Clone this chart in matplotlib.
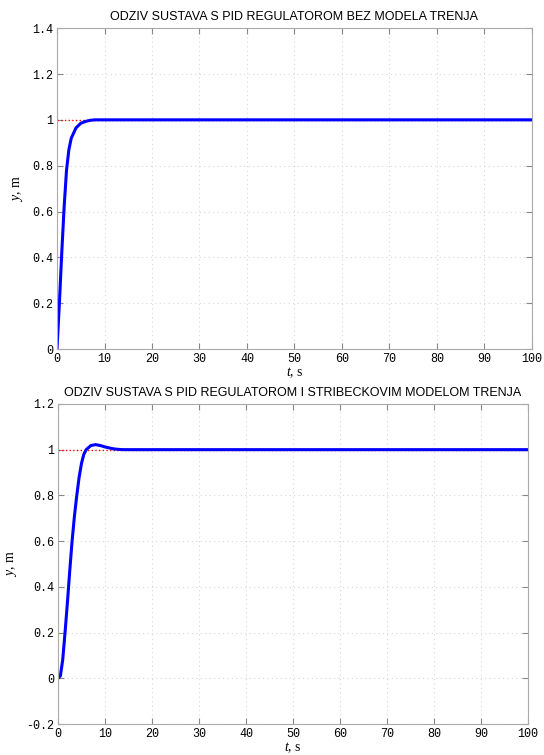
import matplotlib
matplotlib.use('Agg')
import matplotlib.pyplot as plt

# odziv bez modela trenja
t_top = [0, 0.5, 1, 1.5, 2, 2.5, 3, 4, 5, 6, 7, 8, 10, 100]
y_top = [0, 0.2, 0.42, 0.62, 0.78, 0.87, 0.92, 0.965, 0.985, 0.993, 0.998, 1.0, 1.0, 1.0]

# odziv sa Stribeckovim modelom trenja
t_bot = [0, 0.5, 1, 1.5, 2, 2.5, 3, 3.5, 4, 4.5, 5, 5.5, 6, 7, 8, 9, 10, 11, 12, 13, 14, 100]
y_bot = [0, 0.01, 0.08, 0.2, 0.33, 0.47, 0.6, 0.71, 0.8, 0.88, 0.94, 0.98, 1.0,
         1.018, 1.022, 1.018, 1.012, 1.007, 1.003, 1.001, 1.0, 1.0]

setpoint = 1.0
titles = ['ODZIV SUSTAVA S PID REGULATOROM BEZ MODELA TRENJA',
          'ODZIV SUSTAVA S PID REGULATOROM I STRIBECKOVIM MODELOM TRENJA']
xticks = list(range(0, 101, 10))
yticks_top = [0, 0.2, 0.4, 0.6, 0.8, 1, 1.2, 1.4]
yticks_bot = [-0.2, 0, 0.2, 0.4, 0.6, 0.8, 1, 1.2]

plt.rcParams['mathtext.fontset'] = 'custom'
plt.rcParams['mathtext.it'] = 'Liberation Serif:italic'
plt.rcParams['mathtext.rm'] = 'Liberation Serif'


def draw(ax, t, y, title, yticks):
    ax.plot([0, 100], [setpoint, setpoint], color='red', linestyle=':', linewidth=1.0)
    ax.plot(t, y, color='#0000ff', linewidth=2.2)
    ax.set_xlim(0, 100)
    ax.set_ylim(yticks[0], yticks[-1])
    ax.set_xticks(xticks)
    ax.set_yticks(yticks)
    ax.set_xticklabels(['%g' % v for v in xticks], fontfamily='Liberation Mono', fontsize=8.5)
    ax.set_yticklabels(['%g' % v for v in yticks], fontfamily='Liberation Mono', fontsize=8.5)
    ax.tick_params(direction='in', length=4, top=True, right=True, color='#888888', pad=3)
    ax.grid(True, linestyle=(0, (1, 3)), color='#d8d8d8', linewidth=0.8)
    for s in ax.spines.values():
        s.set_color('#aaaaaa')
    ax.set_title(title, fontfamily='Liberation Sans', fontsize=9, pad=6)
    ax.set_xlabel('$t$, s', fontfamily='Liberation Serif', fontsize=10, labelpad=0)
    ax.set_ylabel('$y$, m', fontfamily='Liberation Serif', fontsize=10, labelpad=5)


fig = plt.figure(figsize=(5.44, 7.55), dpi=100)
ax1 = fig.add_axes([0.1048, 0.5377, 0.873, 0.425])
ax2 = fig.add_axes([0.1066, 0.041, 0.864, 0.424])
draw(ax1, t_top, y_top, titles[0], yticks_top)
draw(ax2, t_bot, y_bot, titles[1], yticks_bot)

plt.savefig('out.png', dpi=100)
